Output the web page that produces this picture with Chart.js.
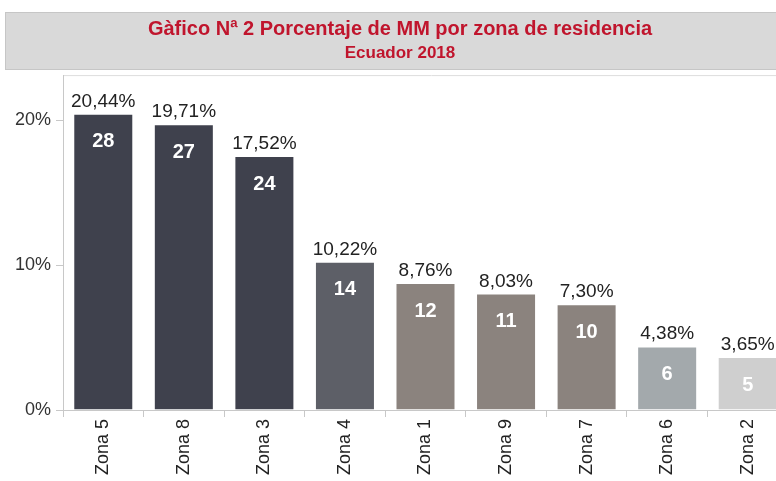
<!DOCTYPE html>
<html>
<head>
<meta charset="utf-8">
<script src="https://cdn.jsdelivr.net/npm/chart.js@4/dist/chart.umd.min.js"></script>
<style>
  html, body { margin: 0; padding: 0; background: #fff; overflow: hidden; width: 776px; height: 481px; }
  #wrap { position: absolute; left: 0; top: 0; width: 800px; height: 481px; }
</style>
</head>
<body>
<div id="wrap"><canvas id="c" width="800" height="481"></canvas></div>
<script>
const titleText = "Gàfico Nª 2 Porcentaje de MM por zona de residencia";
const subtitleText = "Ecuador 2018";
const categories = ["Zona 5", "Zona 8", "Zona 3", "Zona 4", "Zona 1", "Zona 9", "Zona 7", "Zona 6", "Zona 2"];
const percentages = [20.44, 19.71, 17.52, 10.22, 8.76, 8.03, 7.30, 4.38, 3.65];
const counts = [28, 27, 24, 14, 12, 11, 10, 6, 5];
const yTicks = [0, 10, 20];
const barColors = ["#3f414d", "#3f414d", "#3f414d", "#5d5f67", "#8b837e", "#8b837e", "#8b837e", "#a3a9ac", "#cfcfcf"];

const FONT = "'Liberation Sans', Arial, sans-serif";
const TITLE_COLOR = '#c0152d';

const titleBox = {
  id: 'titleBox',
  beforeDraw(chart) {
    const ctx = chart.ctx;
    ctx.save();
    ctx.fillStyle = '#d9d9d9';
    ctx.fillRect(5, 12, 800, 58);
    ctx.strokeStyle = '#c6c6c6';
    ctx.lineWidth = 1;
    ctx.strokeRect(5.5, 12.5, 800, 57);
    const a = chart.chartArea;
    ctx.strokeStyle = '#dddddd';
    ctx.beginPath();
    ctx.moveTo(a.left, a.top + 0.5);
    ctx.lineTo(800, a.top + 0.5);
    ctx.stroke();
    ctx.restore();
  }
};

const barLabels = {
  id: 'barLabels',
  afterDatasetsDraw(chart) {
    const ctx = chart.ctx;
    const meta = chart.getDatasetMeta(0);
    ctx.save();
    ctx.textAlign = 'center';
    meta.data.forEach((bar, i) => {
      ctx.fillStyle = '#222222';
      ctx.font = '19px ' + FONT;
      ctx.textBaseline = 'alphabetic';
      ctx.fillText(percentages[i].toFixed(2).replace('.', ',') + '%', bar.x, bar.y - 7);
      ctx.fillStyle = '#ffffff';
      ctx.font = 'bold 20px ' + FONT;
      ctx.textBaseline = 'middle';
      ctx.fillText(String(counts[i]), bar.x, bar.y + 28);
    });
    ctx.restore();
  }
};

const chart = new Chart(document.getElementById('c'), {
  type: 'bar',
  data: {
    labels: categories,
    datasets: [{
      data: percentages,
      backgroundColor: barColors,
      borderColor: 'rgba(255,255,255,0.25)',
      borderWidth: 1,
      categoryPercentage: 1,
      barPercentage: 0.745
    }]
  },
  options: {
    responsive: false,
    animation: false,
    devicePixelRatio: 1,
    layout: { padding: { left: 0, right: 12, top: 0, bottom: 0 } },
    plugins: {
      legend: { display: false },
      tooltip: { enabled: false },
      title: {
        display: true,
        text: titleText,
        color: TITLE_COLOR,
        font: { family: FONT, size: 20, weight: 'bold', lineHeight: 1.1 },
        padding: { top: 18, bottom: 0 }
      },
      subtitle: {
        display: true,
        text: subtitleText,
        color: TITLE_COLOR,
        font: { family: FONT, size: 17, weight: 'bold', lineHeight: 1.3 },
        padding: { top: 2, bottom: 11 }
      }
    },
    scales: {
      x: {
        grid: { display: true, drawOnChartArea: false, drawTicks: true, tickLength: 7, color: '#c8c8c8', offset: true },
        border: { display: true, color: '#c8c8c8' },
        ticks: {
          color: '#222222',
          font: { family: FONT, size: 18 },
          minRotation: 90,
          maxRotation: 90,
          padding: 2,
          autoSkip: false
        },
        afterFit(scale) { scale.height = 71; }
      },
      y: {
        min: 0,
        max: 23.1,
        afterBuildTicks(scale) { scale.ticks = yTicks.map(v => ({ value: v })); },
        grid: { display: true, drawOnChartArea: false, drawTicks: true, tickLength: 7, color: '#c8c8c8' },
        border: { display: true, color: '#c8c8c8' },
        ticks: {
          color: '#333333',
          font: { family: FONT, size: 18 },
          padding: 5,
          callback: (v) => v + '%'
        },
        afterFit(scale) { scale.width = 63; }
      }
    }
  },
  plugins: [titleBox, barLabels]
});

// shift title blocks so they are centred on the (wider) title box, as in the reference
chart.boxes.forEach(b => {
  if (b.options && typeof b.options.text === 'string' && b.position === 'top') {
    const orig = b.draw;
    b.draw = function () {
      const ctx = this.ctx;
      ctx.save();
      ctx.translate(6, 0);
      orig.apply(this, arguments);
      ctx.restore();
    };
  }
});
chart.draw();
</script>
</body>
</html>
